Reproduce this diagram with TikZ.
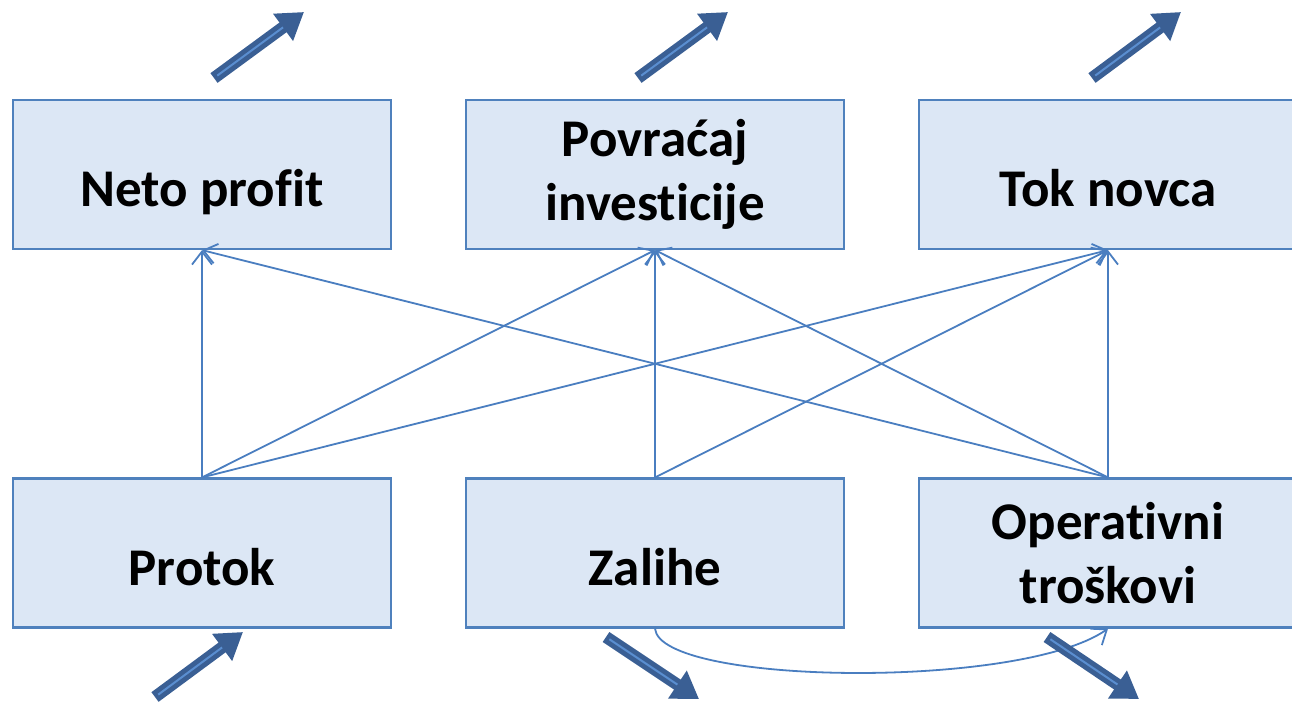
\documentclass[tikz,border=0pt]{standalone}
\usepackage{fontspec}
\setmainfont{Carlito}[Ligatures=CommonOff]
\usetikzlibrary{arrows.meta}

\definecolor{boxfill}{HTML}{DCE7F5}
\definecolor{boxline}{HTML}{4F81BD}
\definecolor{linkblue}{HTML}{4A7EC0}
\definecolor{fatdark}{HTML}{3A5F94}
\definecolor{fatlight}{HTML}{5A8ED0}

\tikzset{
  box/.style={draw=boxline, line width=2.2pt, fill=boxfill,
    minimum width=378pt, minimum height=149pt, inner sep=0pt,
    font=\bfseries\fontsize{53}{64}\selectfont, align=center, text=black},
  oneline/.style={text height=64pt, text depth=0pt},
  link/.style={draw=linkblue, line width=1.8pt,
    -{Straight Barb[length=13pt,width=20pt]}},
  fatarrow/.style={draw=fatdark, line width=12pt,
    -{Triangle[length=26pt,width=32pt]}},
  fatcore/.style={draw=fatlight, line width=2pt, shorten >=26pt, shorten <=4pt},
}

\newcommand{\trend}[2]{%
  \draw[fatarrow] (#1) -- (#2);
  \draw[fatcore] (#1) -- (#2);}

\begin{document}
\begin{tikzpicture}[x=1pt, y=-1pt]
\useasboundingbox (0,0) rectangle (1292,705);

% indicator boxes
\node[box, oneline] (np) at (202,174.5) {Neto profit};
\node[box]          (pi) at (655,174.5) {Povraćaj\\investicije};
\node[box, oneline] (tn) at (1108,174.5) {Tok novca};

% driver boxes
\node[box, oneline] (pr) at (202,553) {Protok};
\node[box, oneline] (za) at (655,553) {Zalihe};
\node[box]          (ot) at (1108,553) {Operativni\\troškovi};

% influence links
\draw[link] (pr.north) -- (np.south);
\draw[link] (pr.north) -- (pi.south);
\draw[link] (pr.north) -- (tn.south);
\draw[link] (za.north) -- (pi.south);
\draw[link] (za.north) -- (tn.south);
\draw[link] (ot.north) -- (np.south);
\draw[link] (ot.north) -- (pi.south);
\draw[link] (ot.north) -- (tn.south);

% inventory affects operating costs
\draw[link] (za.south) .. controls (660,685) and (1020,690) .. (ot.south);

% trend arrows
\coordinate (npA) at (214,78);   \coordinate (npB) at (304,12);
\coordinate (piA) at (638,78);   \coordinate (piB) at (728,12);
\coordinate (tnA) at (1092,78);  \coordinate (tnB) at (1181,12);
\coordinate (prA) at (155,697);  \coordinate (prB) at (243,632);
\coordinate (zaA) at (606,637);  \coordinate (zaB) at (699,699);
\coordinate (otA) at (1047,637); \coordinate (otB) at (1139,699);

\trend{npA}{npB}
\trend{piA}{piB}
\trend{tnA}{tnB}
\trend{prA}{prB}
\trend{zaA}{zaB}
\trend{otA}{otB}
\end{tikzpicture}
\end{document}
